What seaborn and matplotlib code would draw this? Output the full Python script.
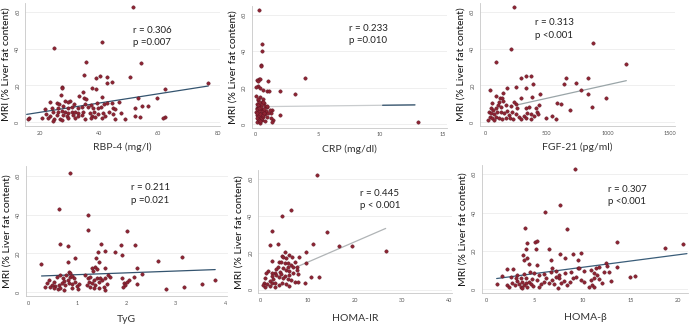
import matplotlib
matplotlib.use("Agg")
import matplotlib.pyplot as plt
import seaborn as sns

# MRI liver fat (%) vs each marker
rbp4_pts = [(51.3,62.7),(40.9,43.8),(24.7,40.5),(35.4,32.9),(54.3,32.2),(34.8,25.7),(38.8,24.2),(40.4,25.3),
    (42.5,24.6),(50.3,24.6),(42.8,21.3),(44.2,21.7),(27.3,19.3),(27.6,18.6),(37.5,18.8),(38.8,18.1),(76.9,21.5),
    (62.3,18.1),(27.0,14.8),(34.5,16.6),(33.2,14.5),(34.8,13.0),(35.5,12.7),(40.9,13.9),(53.3,13.0),(59.7,13.0),
    (23.3,10.8),(28.5,11.8),(30.1,11.8),(29.6,11.2),(25.6,10.7),(26.5,9.9),(31.6,9.8),(35.2,9.8),(37.4,9.4),
    (39.2,10.3),(41.8,9.8),(42.5,10.3),(44.5,10.3),(46.8,11.2),(56.4,9.0),(52.1,8.0),(54.6,8.9),(21.7,7.1),
    (23.9,7.6),(26.2,8.0),(27.9,8.9),(29.6,7.6),(30.7,8.1),(33.0,8.0),(34.1,8.5),(36.3,8.1),(38.0,7.6),(39.7,7.6),
    (40.6,8.5),(44.8,7.6),(45.4,7.1),(24.5,5.8),(26.2,5.4),(27.3,6.1),(28.5,5.8),(29.6,4.9),(30.7,5.4),(31.8,5.8),
    (33.0,4.9),(34.7,5.4),(36.9,4.9),(38.4,5.8),(39.7,4.3),(41.4,4.9),(43.3,5.8),(44.8,4.3),(47.4,4.9),(21.9,4.3),
    (23.4,3.6),(25.6,4.0),(27.9,4.0),(29.0,3.4),(31.3,4.0),(32.7,3.4),(34.1,4.0),(37.5,3.4),(38.6,3.1),(42.0,3.4),
    (52.1,3.4),(53.9,3.1),(16.3,2.2),(20.6,2.2),(22.8,2.2),(24.7,1.6),(26.8,1.8),(29.4,2.2),(31.8,2.2),(35.2,1.8),
    (37.2,2.5),(40.9,2.2),(45.4,1.8),(48.7,1.6),(62.1,3.1),(61.7,2.2),(24.5,0.9),(27.3,1.1),(16.0,1.8)]

crp_pts = [(0.27,62.8),(0.54,43.9),(0.54,40.4),(0.40,32.5),(0.46,31.9),(0.27,24.6),(0.13,24.2),(0.35,24.8),
    (0.21,23.9),(1.02,23.9),(3.96,25.5),(0.21,20.9),(0.03,20.6),(0.35,20.0),(1.96,18.3),(0.94,18.2),(1.10,18.2),
    (3.16,16.3),(13.07,1.1),(1.96,5.0),(1.42,2.2),(1.29,1.3),(1.29,7.7),(1.21,5.9),(0.62,18.7),
    (0.03,15.4),(0.35,15.0),(0.56,13.6),(0.21,13.2),(0.48,12.3),(0.67,11.4),(0.08,11.0),(0.29,10.5),(0.75,9.9),
    (0.94,9.5),(0.13,8.6),(0.40,8.1),(0.62,7.7),(0.83,7.3),(1.15,7.7),(0.03,6.8),(0.24,6.2),(0.51,5.9),(0.75,5.5),
    (1.02,5.9),(0.08,5.0),(0.35,4.4),(0.62,4.0),(0.88,3.7),(1.21,3.1),(0.21,2.6),(0.48,2.2),(0.75,1.8),(0.08,1.3),
    (0.35,0.7),(0.15,9.0),(0.25,7.0),(0.30,12.0),(0.18,4.5),(0.40,3.0),(0.10,6.0),(0.45,9.5),(0.55,7.0),(0.20,10.5),
    (0.33,5.5),(0.12,3.5),(0.28,2.0),(0.50,11.0),(0.60,4.8),(0.22,13.5),(0.38,1.5),(0.70,8.5),(0.65,6.2),(0.08,8.0),
    (0.30,9.0),(0.62,12.3),(0.88,9.9)]

fgf21_pts = [(238,62.4),(878,43.2),(211,39.8),(86,32.5),(1146,31.6),(295,23.9),(335,25.3),(376,24.9),(660,24.2),
    (835,24.2),(641,21.0),(735,21.3),(392,21.0),(41,17.7),(181,18.4),(249,19.2),(330,18.4),(781,17.7),(835,15.6),
    (443,15.2),(86,14.5),(149,15.7),(122,13.0),(141,13.0),(289,13.0),(384,13.7),(978,13.0),(581,10.3),(619,9.8),
    (865,8.1),(689,6.7),(59,10.3),(114,11.2),(149,11.6),(105,9.4),(132,8.5),(86,8.0),(168,9.4),(208,9.0),(249,9.8),
    (262,7.6),(330,8.0),(357,8.5),(411,8.0),(438,9.4),(235,11.2),(46,7.6),(68,6.7),(32,5.8),(51,4.9),(73,4.3),
    (100,5.4),(127,5.8),(154,4.9),(176,6.1),(195,4.0),(222,5.4),(249,4.3),(276,3.1),(316,3.6),(343,4.9),(370,4.3),
    (397,3.6),(424,5.4),(430,4.3),(492,2.5),(546,3.6),(573,1.8),(41,3.1),(59,2.2),(86,3.1),(114,2.5),(141,1.8),
    (24,1.3),(73,1.3),(168,2.2),(203,2.5),(230,1.8),(295,1.8),(330,2.5),(370,1.8)]

tyg_pts = [(0.85,61.6),(0.63,43.1),(1.22,39.7),(1.22,31.9),(2.0,31.4),(0.64,25.0),(0.81,23.8),(1.48,24.8),
    (1.88,24.1),(2.17,24.1),(1.41,20.7),(1.56,21.0),(1.76,20.7),(1.90,19.0),(2.64,15.9),(3.12,18.1),(2.8,1.4),
    (3.17,2.6),(3.54,4.3),(3.8,6.0),(0.26,14.3),(0.80,15.3),(0.96,17.8),(1.36,13.1),(1.29,12.2),(1.40,11.9),
    (1.31,10.9),(1.57,12.6),(1.44,15.3),(1.38,17.8),(2.22,12.6),(2.31,9.1),(1.66,7.8),(2.14,7.8),
    (0.58,7.9),(0.65,8.8),(0.71,7.1),(0.77,8.8),(0.82,10.5),(0.85,9.7),(0.84,7.9),(0.89,8.4),(0.92,7.1),(0.80,6.2),
    (0.73,5.7),(0.68,4.5),(0.62,3.6),(0.55,3.1),(0.48,3.6),(0.45,2.8),(0.52,1.9),(0.60,1.6),(0.65,2.2),(0.75,3.6),
    (0.82,4.5),(0.89,4.0),(0.96,5.0),(0.99,3.3),(1.04,4.0),(0.72,1.0),(0.89,1.9),(1.02,1.6),
    (1.16,8.8),(1.21,7.1),(1.26,7.9),(1.33,6.2),(1.40,7.4),(1.23,5.3),(1.29,4.5),(1.36,3.6),(1.43,5.0),(1.50,6.2),
    (1.57,7.1),(1.19,3.6),(1.26,2.8),(1.33,2.2),(1.43,1.9),(1.53,2.8),(1.60,4.0),(1.55,1.0),(1.46,7.1),(1.63,8.8),
    (1.90,7.1),(1.94,4.5),(1.97,3.6),(2.00,5.3),(2.04,6.2),(1.92,2.8),(2.21,4.0),(0.43,6.2),(0.52,5.0),(0.39,4.5),
    (0.35,2.8)]

homair_pts = [(11.9,62.1),(6.4,43.1),(4.5,40.0),(2.3,32.1),(14.1,31.3),(2.0,24.1),(3.7,24.8),(11.1,24.6),
    (16.6,23.9),(19.4,23.7),(26.5,21.2),(5.2,20.5),(6.1,19.0),(4.6,18.3),(6.7,17.6),(9.7,20.5),(8.1,17.6),
    (2.3,15.8),(3.8,15.0),(9.7,14.3),(4.7,17.9),(5.4,17.0),(4.4,15.2),(5.1,14.3),(5.9,14.7),(6.5,13.4),(7.3,15.2),
    (6.9,12.5),(7.8,12.5),(5.8,12.5),(3.7,12.5),(3.3,11.1),(4.7,11.6),(5.4,10.7),(6.1,10.3),(4.0,9.8),(3.0,9.2),
    (2.3,8.9),(1.6,10.3),(1.2,8.9),(2.4,7.4),(3.3,8.0),(4.4,8.5),(5.1,7.4),(6.1,8.0),(6.9,9.2),(7.8,10.7),(7.9,8.5),
    (3.8,6.7),(4.7,6.2),(5.7,5.6),(6.5,5.3),(7.3,4.3),(2.6,5.6),(1.9,4.9),(1.0,6.2),(0.7,3.8),(1.4,3.1),(2.3,3.4),
    (3.1,3.8),(3.8,2.5),(4.5,3.4),(5.4,3.1),(6.1,2.0),(3.0,1.6),(1.9,2.0),(1.0,1.6),(0.5,2.5),(9.3,3.8),(10.7,6.7),
    (12.3,7.1),(7.9,4.3)]

homab_pts = [(9.2,62.6),(7.65,43.8),(6.1,40.3),(4.0,32.2),(8.4,31.5),(4.2,24.0),(5.0,24.5),(5.3,25.2),(13.6,24.9),
    (18.6,21.4),(20.5,23.7),(4.07,21.0),(5.1,21.0),(6.5,21.0),(3.8,17.9),(4.2,16.2),(3.9,15.3),(4.4,13.0),
    (7.65,18.3),(8.2,16.5),(9.0,18.3),(9.8,18.8),(9.5,15.3),(6.7,15.3),(5.3,12.7),(12.5,13.6),(12.6,12.3),
    (13.6,11.8),(15.0,6.6),(15.5,7.1),(13.0,4.3),(10.7,1.4),(11.0,2.3),(11.2,1.4),
    (2.16,10.6),(2.78,10.6),(1.63,7.1),(2.5,6.6),(3.2,7.5),(3.9,7.8),(4.5,9.2),(4.9,8.3),(5.5,7.5),(6.0,7.8),
    (6.7,9.2),(6.85,11.0),(7.2,9.6),(7.5,7.5),(8.2,8.3),(8.8,8.9),(9.5,11.0),(9.6,11.3),(10.2,9.6),(10.9,10.1),
    (11.4,11.0),(11.7,11.8),(11.2,8.3),(11.5,7.5),(12.2,9.2),(12.8,9.2),
    (1.04,2.6),(2.16,2.3),(2.33,1.4),(2.68,3.1),(2.92,2.3),(3.2,4.3),(3.37,2.6),(3.55,1.4),(3.72,3.7),(3.9,2.3),
    (4.07,3.1),(4.24,1.4),(4.42,4.0),(4.6,2.6),(3.03,5.7),(3.55,5.7),(4.07,6.1),(4.77,5.4),(5.29,4.9),(5.63,2.6),
    (5.98,3.7),(6.5,3.1),(6.85,4.9),(7.03,2.6),(7.44,0.5),(7.79,3.1),(8.07,4.3),(8.42,2.3),(8.7,4.0),(9.04,5.7),
    (9.29,6.6),(9.8,4.9),(10.16,3.7),(10.85,4.9),(11.2,5.7),(11.7,5.4),(12.07,3.1),(7.55,5.7),(6.16,5.7),(5.46,1.4),
    (4.87,1.9),(3.72,0.5),(7.2,6.6)]

# fitted line ends (x0, x1), (y0, y1)
fit_x = [(15.5, 76.9), (0.0, 12.8), (257, 1146), (0.27, 3.8), (7.3, 26.5), (1.04, 20.9)]
fit_y = [(4.3, 19.7), (9.5, 10.5), (9.4, 22.6), (8.3, 11.6), (12.0, 33.3), (5.6, 18.6)]

x_labels = ["RBP-4 (mg/l)", "CRP (mg/dl)", "FGF-21 (pg/ml)", "TyG", "HOMA-IR", "HOMA-β"]
r_vals = ["r = 0.306", "r = 0.233", "r = 0.313", "r = 0.211", "r = 0.445", "r = 0.307"]
p_vals = ["p =0.007", "p =0.010", "p <0.001", "p =0.021", "p < 0.001", "p <0.001"]
x_ticks = [[20, 40, 60, 80], [0, 5, 10, 15], [0, 500, 1000, 1500], [0, 1, 2, 3, 4], [0, 10, 20, 30, 40], [0, 5, 10, 15, 20]]
y_ticks = [0, 20, 40, 60]

all_pts = [rbp4_pts, crp_pts, fgf21_pts, tyg_pts, homair_pts, homab_pts]

sns.set_style("white")
plt.rcParams['font.family'] = ['Lato', 'DejaVu Sans']

W, H = 689, 324
fig = plt.figure(figsize=(W / 100, H / 100), dpi=100)
fig.patch.set_facecolor("white")

# pixel boxes (left, top, right, bottom) and limits
boxes = [(25.2, 2.5, 220.4, 126.0), (252.0, 5.9, 447.3, 127.6), (480.1, 2.5, 674.9, 126.0),
         (25.8, 166.3, 227.5, 295.9), (258.3, 170.1, 451.7, 293.4), (481.9, 164.7, 687.9, 293.1)]
xlims = [(15, 81), (-0.3, 15.4), (-40, 1540), (-0.05, 4.05), (-0.5, 40.5), (-0.5, 21)]
line_cols = ["#34546f", "#c9ccce", "#9aa5a8", "#34546f", "#b0b4b6", "#3a5d79"]
text_pos = [(51.3, 46.5), (7.5, 49.3), (405, 50.7), (2.09, 50.6), (21.1, 49.0), (12.7, 49.0)]
xlabel_pad = [5, 5, 5, 7, 8, 7]

dot = "#8e2433"

for i in range(6):
    l, t, r, b = boxes[i]
    ax = fig.add_axes([l / W, 1 - b / H, (r - l) / W, (b - t) / H])
    xs = [p[0] for p in all_pts[i]]
    ys = [p[1] for p in all_pts[i]]
    ax.grid(axis="y", color="#ececec", linewidth=0.6)
    ax.set_axisbelow(True)
    sns.lineplot(x=list(fit_x[i]), y=list(fit_y[i]), ax=ax, color=line_cols[i], linewidth=0.9, zorder=2)
    if i == 1:
        # darker tail of the fitted line
        sns.lineplot(x=[10.2, fit_x[1][1]], y=[10.3, fit_y[1][1]], ax=ax, color="#34546f", linewidth=0.9, zorder=2)
    sns.scatterplot(x=xs, y=ys, ax=ax, color=dot, s=6, edgecolor="#5a1420", linewidth=0.3, zorder=3)
    ax.set_xlim(*xlims[i])
    ax.set_ylim(-2, 65)
    ax.set_xticks(x_ticks[i])
    ax.set_yticks(y_ticks)
    ax.tick_params(axis="both", length=2, width=0.5, color="#999999", labelsize=4, labelcolor="#555555", pad=1.5)
    for lab in ax.get_yticklabels():
        lab.set_rotation(90)
        lab.set_va("center")
    for s in ["top", "right"]:
        ax.spines[s].set_visible(False)
    for s in ["left", "bottom"]:
        ax.spines[s].set_color("#c8c8c8")
        ax.spines[s].set_linewidth(0.6)
    ax.set_ylabel("MRI (% Liver fat content)", fontsize=7.5, color="#111111")
    ax.yaxis.set_label_coords(-14.5 / (r - l), 0.5)
    ax.set_xlabel(x_labels[i], fontsize=7.5, color="#333333", labelpad=xlabel_pad[i])
    tx, ty = text_pos[i]
    ax.text(tx, ty, r_vals[i] + "\n" + p_vals[i], fontsize=7, color="#222222", va="center", ha="left", linespacing=1.5)

fig.savefig("out.png", dpi=100)
